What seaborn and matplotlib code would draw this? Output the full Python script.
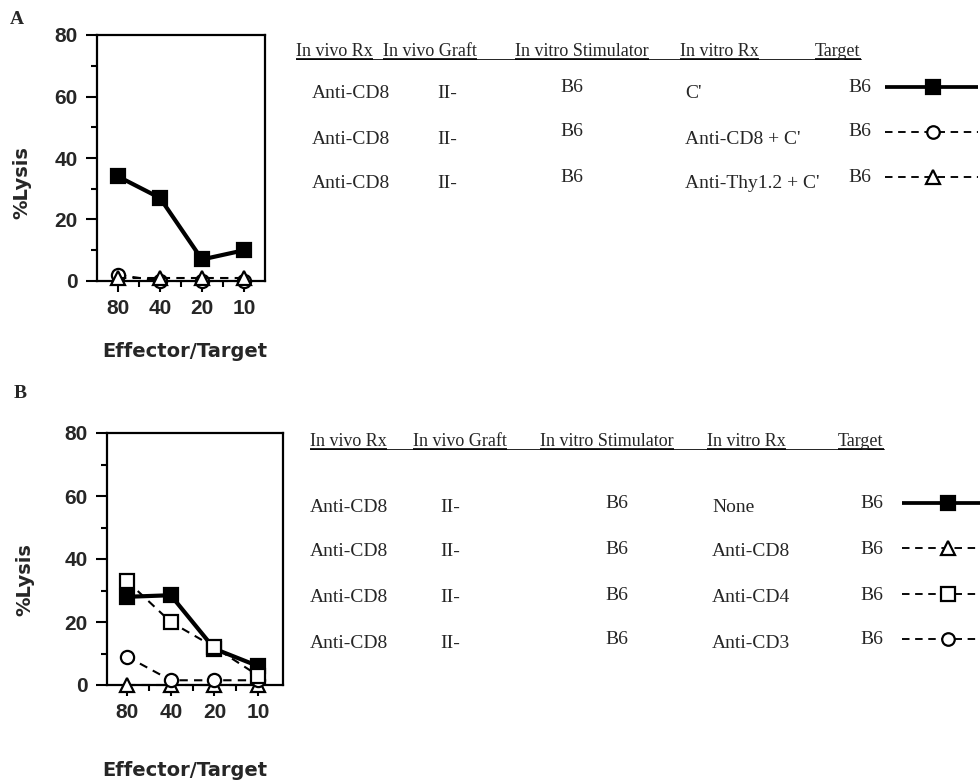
import numpy as np
import matplotlib
matplotlib.use("Agg")
import matplotlib.pyplot as plt
import seaborn as sns

# ---------------------------------------------
# Data (% lysis per E/T ratio)
# ---------------------------------------------
et_labels = ["80", "40", "20", "10"]

# Panel A
a_c_only = [34, 27, 7, 10]          # C'
a_cd8_c = [2, 0, 0, 0]              # Anti-CD8 + C'
a_thy_c = [1, 1, 1, 1]              # Anti-Thy1.2 + C'

# Panel B
b_none = [28, 28.5, 11.5, 6]        # None
b_cd8 = [0, 0, 0, 0]                # Anti-CD8
b_cd4 = [33, 20, 12, 3]             # Anti-CD4
b_cd3 = [9, 1.5, 1.5, 1.5]          # Anti-CD3

headers = ["In vivo Rx", "In vivo Graft", "In vitro Stimulator", "In vitro Rx", "Target"]

a_invivo_rx = ["Anti-CD8", "Anti-CD8", "Anti-CD8"]
a_graft = ["II-", "II-", "II-"]
a_stim = ["B6", "B6", "B6"]
a_invitro_rx = ["C'", "Anti-CD8 + C'", "Anti-Thy1.2 + C'"]
a_target = ["B6", "B6", "B6"]

b_invivo_rx = ["Anti-CD8", "Anti-CD8", "Anti-CD8", "Anti-CD8"]
b_graft = ["II-", "II-", "II-", "II-"]
b_stim = ["B6", "B6", "B6", "B6"]
b_invitro_rx = ["None", "Anti-CD8", "Anti-CD4", "Anti-CD3"]
b_target = ["B6", "B6", "B6", "B6"]

# series styles
SOLID_SQ = dict(marker="s", mfc="black", ls="-", lw=3.0, ms=10.5)
OPEN_CI = dict(marker="o", mfc="white", ls=(0, (4, 3)), lw=1.5, ms=9.5)
OPEN_TR = dict(marker="^", mfc="white", ls=(0, (4, 3)), lw=1.5, ms=10.5)
OPEN_SQ = dict(marker="s", mfc="white", ls=(0, (4, 3)), lw=1.5, ms=10)

sns.set_theme(style="ticks")
plt.rcParams["font.family"] = ["DejaVu Sans"]

fig = plt.figure(figsize=(9.8, 7.81), dpi=100)
W, H = 980.0, 781.0


def px_axes(left, top, right, bottom):
    return fig.add_axes([left / W, 1 - bottom / H, (right - left) / W, (bottom - top) / H])


def draw_series(ax, vals, st):
    xs = np.arange(len(et_labels))
    sns.lineplot(x=xs, y=vals, ax=ax, color="black", linestyle=st["ls"], linewidth=st["lw"],
                 marker=st["marker"], markersize=st["ms"], markerfacecolor=st["mfc"],
                 markeredgecolor="black", markeredgewidth=1.6, clip_on=False, zorder=5)


def style_axes(ax, xlim, xlab_xy, ylab_xy):
    ax.set_xlim(*xlim)
    ax.set_ylim(0, 80)
    ax.set_xticks(range(len(et_labels)), labels=et_labels)
    ax.set_xticks([0.5, 1.5, 2.5], minor=True)
    ax.set_yticks([0, 20, 40, 60, 80], labels=["0", "20", "40", "60", "80"])
    ax.set_yticks([10, 30, 50, 70], minor=True)
    for lbl in ax.get_xticklabels() + ax.get_yticklabels():
        lbl.set_fontfamily("Liberation Sans")
        lbl.set_fontweight("bold")
        lbl.set_fontsize(15)
    ax.tick_params(which="major", direction="out", length=8, width=1.5, color="black")
    ax.tick_params(which="minor", direction="out", length=4, width=1.5, color="black")
    ax.tick_params(axis="y", which="major", pad=6)
    ax.tick_params(axis="x", which="major", pad=5)
    for sp in ax.spines.values():
        sp.set_visible(True)
        sp.set_linewidth(1.6)
        sp.set_color("black")
    ax.set_facecolor("white")
    ax.set_xlabel("Effector/Target", fontsize=14, fontweight="bold", family="DejaVu Sans")
    ax.set_ylabel("%Lysis", fontsize=14, fontweight="bold", family="DejaVu Sans")
    ax.xaxis.set_label_coords(*xlab_xy)
    ax.yaxis.set_label_coords(*ylab_xy)


# ---- Panel A ----
axA = px_axes(97, 35, 265, 281)
draw_series(axA, a_cd8_c, OPEN_CI)
draw_series(axA, a_thy_c, OPEN_TR)
draw_series(axA, a_c_only, SOLID_SQ)
style_axes(axA, (-0.5, 3.5), (0.52, -0.25), (-0.39, 0.40))

# ---- Panel B ----
axB = px_axes(107, 433, 283, 685)
draw_series(axB, b_cd8, OPEN_TR)
draw_series(axB, b_cd3, OPEN_CI)
draw_series(axB, b_none, SOLID_SQ)
draw_series(axB, b_cd4, OPEN_SQ)
style_axes(axB, (-0.46, 3.57), (0.44, -0.30), (-0.41, 0.42))

# ---- text layer in pixel coordinates ----
axT = fig.add_axes([0, 0, 1, 1], zorder=-1)
axT.set_xlim(0, W)
axT.set_ylim(H, 0)
axT.axis("off")

SERIF = "Liberation Serif"
fig.text(17 / W, 1 - 19 / H, "A", family=SERIF, fontweight="bold", fontsize=14, ha="center", va="center")
fig.text(20 / W, 1 - 393 / H, "B", family=SERIF, fontweight="bold", fontsize=14, ha="center", va="center")


def draw_table(hx, hy, col_x, rows_y, cols, styles, line_x, mark_x, b6_dy, line_dy):
    renderer = fig.canvas.get_renderer()
    ends = []
    for x, h in zip(hx, headers):
        t = axT.text(x, hy, h, family=SERIF, fontsize=13, ha="left", va="center")
        bb = t.get_window_extent(renderer)
        ends.append(x + bb.width)
    uy = hy + 8
    # thin connecting rule + heavier underline under each heading
    axT.plot([hx[0], ends[-1]], [uy, uy], color="black", lw=0.6)
    for x0, x1 in zip(hx, ends):
        axT.plot([x0, x1], [uy, uy], color="black", lw=1.2, solid_capstyle="butt")
    for i, y in enumerate(rows_y):
        for j, (x, col) in enumerate(zip(col_x, cols)):
            dy = b6_dy if j in (2, 4) else 0
            axT.text(x, y + dy, col[i], family=SERIF, fontsize=14, ha="left", va="center")
        st = styles[i]
        ly = y + line_dy
        axT.plot(line_x, [ly, ly], color="black", ls=st["ls"], lw=st["lw"] * 0.9, solid_capstyle="butt")
        axT.plot([mark_x], [ly], marker=st["marker"], ms=st["ms"] * 0.95, mfc=st["mfc"],
                 mec="black", mew=1.6, color="black")


draw_table(hx=[296, 383, 515, 680, 815], hy=51,
           col_x=[312, 437, 560, 685, 848], rows_y=[94, 139, 184],
           cols=[a_invivo_rx, a_graft, a_stim, a_invitro_rx, a_target],
           styles=[SOLID_SQ, OPEN_CI, OPEN_TR],
           line_x=[885, 978], mark_x=933, b6_dy=-7, line_dy=-7)

draw_table(hx=[310, 413, 540, 707, 838], hy=441,
           col_x=[310, 440, 605, 712, 860], rows_y=[507, 552, 598, 643],
           cols=[b_invivo_rx, b_graft, b_stim, b_invitro_rx, b_target],
           styles=[SOLID_SQ, OPEN_TR, OPEN_SQ, OPEN_CI],
           line_x=[902, 980], mark_x=948, b6_dy=-3, line_dy=-4)

fig.savefig("out.png", dpi=100, facecolor="white")
